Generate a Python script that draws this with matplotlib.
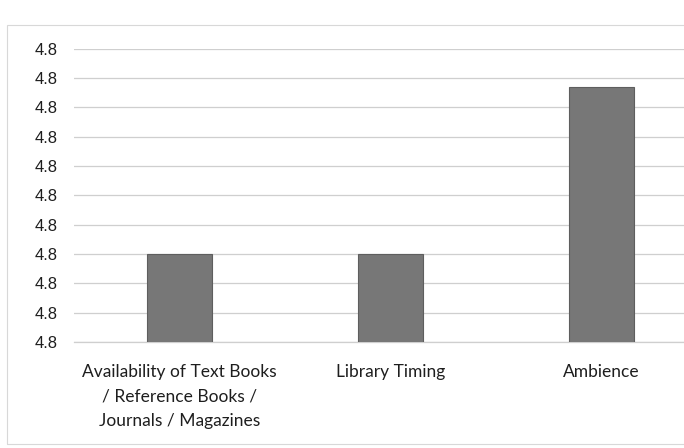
import matplotlib
matplotlib.use("Agg")
import matplotlib.pyplot as plt
from matplotlib.patches import Rectangle

categories = [
    "Availability of Text Books\n/ Reference Books /\nJournals / Magazines",
    "Library Timing",
    "Ambience",
]
values = [4.765, 4.765, 4.7935]
y_ticks = [4.75, 4.755, 4.76, 4.765, 4.77, 4.775, 4.78, 4.785, 4.79, 4.795, 4.80]
y_tick_labels = ["4.8"] * len(y_ticks)

fig = plt.figure(figsize=(6.84, 4.48), dpi=100)
ax = fig.add_axes([0.108, 0.237, 0.926, 0.654])

# faint outer border from the scanned chart
fig.patches.append(Rectangle((7 / 684, 0.01), 1.2, (448 - 25) / 448 - 0.01,
                             transform=fig.transFigure, fill=False,
                             edgecolor="#d8d8d8", linewidth=0.8))

x = range(len(categories))
ax.bar(x, values, width=0.31, color="#777777", edgecolor="#5e5e5e",
       linewidth=0.8, zorder=3)

ax.set_ylim(y_ticks[0], y_ticks[-1])
ax.set_xlim(-0.5, 2.5)
ax.set_yticks(y_ticks)
ax.set_yticklabels(y_tick_labels, fontsize=12, family="Liberation Sans",
                   color="#1e1e1e")
ax.set_xticks(list(x))
ax.set_xticklabels(categories, fontsize=12.5, family="Lato", color="#1e1e1e",
                   linespacing=1.65)
ax.tick_params(axis="y", length=0, pad=12)
ax.tick_params(axis="x", length=0, pad=16)
ax.grid(axis="y", color="#cfcfcf", linewidth=0.9, zorder=0)
for side in ["top", "right", "left"]:
    ax.spines[side].set_visible(False)
ax.spines["bottom"].set_color("#cfcfcf")
ax.spines["bottom"].set_linewidth(0.9)

fig.savefig("out.png", dpi=100)
plt.close(fig)
